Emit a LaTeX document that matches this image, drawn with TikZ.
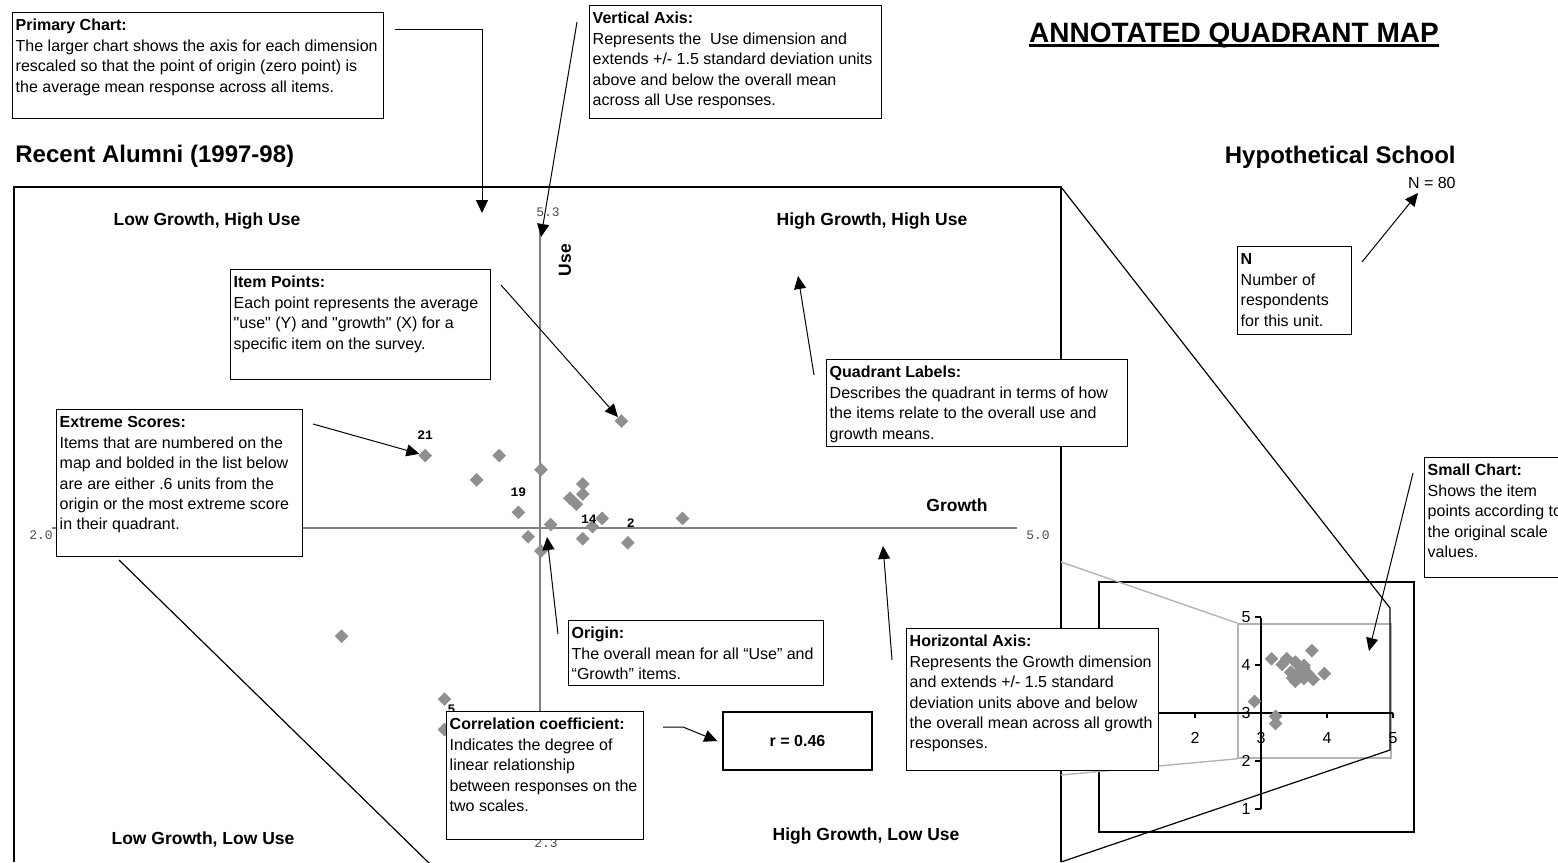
\documentclass[tikz,border=0pt]{standalone}
\usepackage{fontspec}
\setmainfont{Liberation Sans}[Ligatures=TeXOff]
\setmonofont{Liberation Mono}
\usepackage{tikz}
\usetikzlibrary{arrows.meta,shapes.geometric}
\definecolor{ink}{HTML}{000000}
\definecolor{marker}{HTML}{8F8F8F}
\definecolor{axisgray}{HTML}{808080}
\definecolor{framegray}{HTML}{B4B4B4}
\newcommand{\callout}[4]{\parbox[t][#2][t]{#1}{\begin{tabular}[t]{@{}l@{}}\textbf{#3}\\#4\end{tabular}}}

\begin{document}
\begin{tikzpicture}[x=0.5pt,y=-0.5pt,
  note/.style={draw=ink,line width=0.7pt,fill=white,anchor=north west,inner xsep=1.5pt,inner ysep=2pt,font=\fontsize{8}{10.2}\selectfont},
  arr/.style={-{Triangle[length=6.5pt,width=6pt]},line width=0.5pt,draw=ink},
  quadlab/.style={font=\bfseries\fontsize{8.75}{10}\selectfont,inner sep=0pt},
  ticklab/.style={font=\ttfamily\fontsize{6.5}{8}\selectfont,text=black!70,inner sep=0pt},
  itempt/.style={diamond,fill=marker,inner sep=0pt,minimum width=7pt,minimum height=7pt},
  numlab/.style={font=\ttfamily\bfseries\fontsize{6.5}{8}\selectfont,inner sep=0pt},
  heading/.style={font=\bfseries\fontsize{12}{14}\selectfont,inner sep=0pt},
  scalelab/.style={font=\fontsize{8}{10}\selectfont,inner sep=0pt}]
\useasboundingbox (0,0) rectangle (1558,862);

\node[heading,font=\bfseries\fontsize{14}{16}\selectfont,anchor=base] (maptitle) at (1234,42) {ANNOTATED QUADRANT MAP};
\draw[line width=1.3pt] ([yshift=-1.6pt]maptitle.base west) -- ([yshift=-1.6pt]maptitle.base east);
\node[heading,anchor=base west] (cohort) at (15,162) {Recent Alumni (1997-98)};
\node[heading,anchor=base east] (school) at (1456,163) {Hypothetical School};
\node[scalelab,anchor=base east] (nval) at (1456,188) {N = 80};

\draw[ink,line width=0.75pt] (14,862) -- (14,187) -- (1061,187) -- (1061,862);
\draw[axisgray,line width=0.8pt] (540,226) -- (540,832);
\draw[axisgray,line width=0.8pt] (52,528) -- (1017,528);
\node[ticklab] (utop) at (548,212) {5.3};
\node[ticklab] (ubot) at (546,843) {2.3};
\node[ticklab] (glow) at (41,535) {2.0};
\node[ticklab] (ghigh) at (1038,535) {5.0};
\node[quadlab,rotate=90] (usetitle) at (565,260) {Use};
\node[quadlab,anchor=base] (growthtitle) at (957,511) {Growth};
\node[quadlab,anchor=base] (lghu) at (207,225) {Low Growth, High Use};
\node[quadlab,anchor=base] (hghu) at (872,225) {High Growth, High Use};
\node[quadlab,anchor=base] (lglu) at (203,844) {Low Growth, Low Use};
\node[quadlab,anchor=base] (hglu) at (866,840) {High Growth, Low Use};

\draw[ink,line width=0.6pt] (1099,582) rectangle (1414,832);
\node[draw=framegray,line width=0.9pt,minimum width=76.5pt,minimum height=67pt,inner sep=0pt,anchor=north west] (zoomwin) at (1237,623) {};
\draw[ink,line width=0.6pt] (1261,618) -- (1261,809);
\draw[ink,line width=0.6pt] (1129,713) -- (1393,713);
\foreach \v in {1,...,5}{
  \draw[ink,line width=0.6pt] (1255,{713-(\v-3)*48}) -- (1261,{713-(\v-3)*48});
  \draw[ink,line width=0.6pt] ({1261+(\v-3)*66},713) -- ({1261+(\v-3)*66},718);
  \node[scalelab,anchor=east] (use\v) at (1251,{713-(\v-3)*48}) {\v};
}
\foreach \v in {2,...,5}
  \node[scalelab] (growth\v) at ({1261+(\v-3)*66},738) {\v};

\foreach \g/\u [count=\i] in {3.16/4.13,3.39/4.13,3.32/4.01,3.52/4.06,3.45/3.85,3.48/3.73,3.52/3.66,
    3.55/3.79,3.65/3.99,3.65/3.94,3.61/3.92,3.63/3.89,3.68/3.78,3.71/3.82,3.65/3.72,3.79/3.70,
    3.96/3.82,3.77/4.30,2.90/3.24,3.22/2.93,3.22/2.78}{
  \node[itempt] (m\i) at ({52+(\g-2)*321.7},{218+(5.3-\u)*203}) {};
  \node[itempt] (s\i) at ({1261+(\g-3)*66},{713-(\u-3)*48}) {};
}
\foreach \i/\n/\dx in {1/21/0,5/19/0,15/14/3,16/2/1.5,21/5/3.5}
  \node[numlab] (item\n) at ([xshift=\dx pt,yshift=10pt]m\i) {\n};

\draw[framegray,line width=0.7pt] (1061,562) -- (zoomwin.north west);
\draw[framegray,line width=0.7pt] (1061,775) -- (zoomwin.south west);
\draw[ink,line width=0.6pt] (1061,187) -- (1390,608) -- (1390,750) -- (1061,862);
\draw[ink,line width=0.6pt] (119,560) -- (430,864);

\node[note] (prim) at (12,12) {\callout{182.5pt}{49pt}{Primary Chart:}{The larger chart shows the axis for each dimension\\rescaled so that the point of origin (zero point) is\\the average mean response across all items.}};
\node[note] (vaxis) at (589,5) {\callout{143pt}{52.5pt}{Vertical Axis:}{Represents the\ \ Use dimension and\\extends +/- 1.5 standard deviation units\\above and below the overall mean\\across all Use responses.}};
\node[note] (items) at (230,269) {\callout{127pt}{51pt}{Item Points:}{Each point represents the average\\"use" (Y) and "growth" (X) for a\\specific item on the survey.}};
\node[note] (extreme) at (56,409) {\callout{120pt}{69.5pt}{Extreme Scores:}{Items that are numbered on the\\map and bolded in the list below\\are are either .6 units from the\\origin or the most extreme score\\in their quadrant.}};
\node[note] (quad) at (826,359) {\callout{147.5pt}{39.5pt}{Quadrant Labels:}{Describes the quadrant in terms of how\\the items relate to the overall use and\\growth means.}};
\node[note] (nbox) at (1237,246) {\callout{54pt}{40pt}{N}{Number of\\respondents\\for this unit.}};
\node[note] (origin) at (568,620) {\callout{124.5pt}{28.5pt}{Origin:}{The overall mean for all “Use” and\\“Growth” items.}};
\node[note] (haxis) at (906,628) {\callout{123pt}{67pt}{Horizontal Axis:}{Represents the Growth dimension\\and extends +/- 1.5 standard\\deviation units above and below\\the overall mean across all growth\\responses.}};
\node[note] (correl) at (446,711) {\callout{95.5pt}{60pt}{Correlation coefficient:}{Indicates the degree of\\linear relationship\\between responses on the\\two scales.}};
\node[note] (small) at (1424,457) {\callout{72pt}{56pt}{Small Chart:}{Shows the item\\points according to\\the original scale\\values.}};
\node[draw=ink,line width=0.7pt,fill=white,minimum width=74.5pt,minimum height=29pt,font=\bfseries\fontsize{8}{10}\selectfont] (rbox) at (797.5,741) {r = 0.46};

\coordinate (primfrom) at (395,29);
\coordinate (primto) at (482,213);
\coordinate (vaxfrom) at (577,22);
\coordinate (vaxto) at (541,237);
\coordinate (itemfrom) at (501,285);
\coordinate (xsfrom) at (313,424);
\coordinate (quadfrom) at (814,375);
\coordinate (quadto) at (798,276);
\coordinate (origfrom) at (558,634);
\coordinate (origto) at (547,537);
\coordinate (haxfrom) at (892,660);
\coordinate (haxto) at (883,546);
\coordinate (corrfrom) at (663,727);
\coordinate (corrbend) at (683,727);
\coordinate (smallfrom) at (1413,473);
\coordinate (smallto) at (1369,651);
\coordinate (nfrom) at (1362,262);
\coordinate (nto) at (1418,193);
\draw[arr] (primfrom) -| (primto);
\draw[arr] (vaxfrom) -- (vaxto);
\draw[arr] (itemfrom) -- (m18);
\draw[arr] (xsfrom) -- (m1);
\draw[arr] (quadfrom) -- (quadto);
\draw[arr] (origfrom) -- (origto);
\draw[arr] (haxfrom) -- (haxto);
\draw[arr] (corrfrom) -- (corrbend) -- ([xshift=-2.5pt]rbox.west);
\draw[arr] (smallfrom) -- (smallto);
\draw[arr] (nfrom) -- (nto);
\end{tikzpicture}
\end{document}
